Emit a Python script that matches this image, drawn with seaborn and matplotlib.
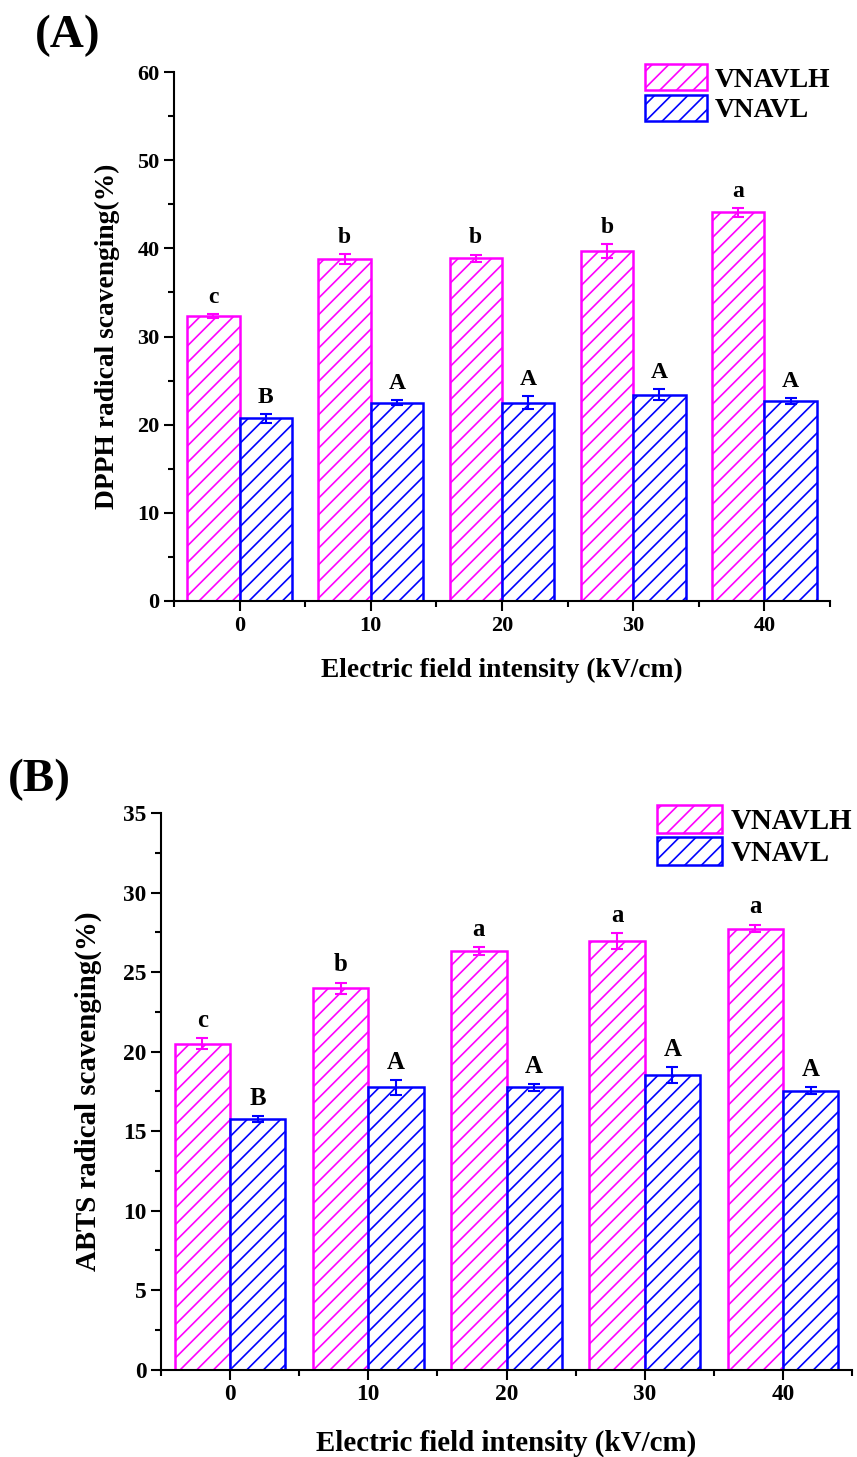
"""Antioxidant activity (DPPH / ABTS) vs electric field intensity, two panels."""

import matplotlib
matplotlib.use("Agg")
import matplotlib.pyplot as plt
from matplotlib.patches import Patch
from matplotlib.ticker import MultipleLocator
import pandas as pd
import seaborn as sns

# Data
fields = ["0", "10", "20", "30", "40"]
groups = ["VNAVLH", "VNAVL"]
colors = ["#FF00FF", "#0000FF"]

dpph_vnavlh = [32.3, 38.8, 38.9, 39.7, 44.1]
dpph_vnavlh_err = [0.2, 0.55, 0.4, 0.75, 0.5]
dpph_vnavl = [20.7, 22.5, 22.5, 23.4, 22.7]
dpph_vnavl_err = [0.55, 0.25, 0.7, 0.6, 0.3]
dpph_vnavlh_letters = ["c", "b", "b", "b", "a"]
dpph_vnavl_letters = ["B", "A", "A", "A", "A"]

abts_vnavlh = [20.5, 24.0, 26.35, 26.95, 27.75]
abts_vnavlh_err = [0.35, 0.35, 0.25, 0.5, 0.25]
abts_vnavl = [15.75, 17.75, 17.75, 18.55, 17.55]
abts_vnavl_err = [0.2, 0.45, 0.2, 0.5, 0.2]
abts_vnavlh_letters = ["c", "b", "a", "a", "a"]
abts_vnavl_letters = ["B", "A", "A", "A", "A"]

sns.set_style("ticks")
plt.rcParams.update({
    "font.family": ["Liberation Serif", "DejaVu Serif"],
    "font.weight": "bold",
    "axes.labelweight": "bold",
    "axes.linewidth": 1.5,
    "axes.edgecolor": "black",
    "axes.labelcolor": "black",
    "text.color": "black",
    "xtick.color": "black",
    "ytick.color": "black",
    "hatch.linewidth": 1.2,
})


def draw_panel(ax, h_vals, h_err, l_vals, l_err, h_let, l_let,
               ymax, ystep, ylabel, scale, legend_anchor, label_xy):
    df = pd.DataFrame({
        "field": fields * 2,
        "group": [groups[0]] * len(fields) + [groups[1]] * len(fields),
        "value": h_vals + l_vals,
    })
    sns.barplot(data=df, x="field", y="value", hue="group", palette=colors,
                errorbar=None, width=0.8, ax=ax, legend=False)
    for cont, color in zip(ax.containers, colors):
        for bar in cont:
            bar.set_facecolor("white")
            bar.set_edgecolor(color)
            bar.set_hatch("//")
            bar.set_linewidth(1.8)

    series = zip(ax.containers, [h_vals, l_vals], [h_err, l_err], [h_let, l_let], colors)
    for cont, vals, errs, lets, color in series:
        xs = [b.get_x() + b.get_width() / 2 for b in cont]
        ax.errorbar(xs, vals, yerr=errs, fmt="none", ecolor=color,
                    elinewidth=1.5, capsize=4, capthick=1.5, zorder=3)
        for x, v, e, t in zip(xs, vals, errs, lets):
            ax.annotate(t, (x, v + e), xytext=(0, 8), textcoords="offset points",
                        ha="center", va="baseline", fontsize=17 * scale,
                        fontweight="bold")

    ax.set_xlim(-0.5, len(fields) - 0.5)
    ax.set_ylim(0, ymax)
    ax.yaxis.set_major_locator(MultipleLocator(ystep))
    ax.yaxis.set_minor_locator(MultipleLocator(ystep / 2))
    ax.set_xticks([i - 0.5 for i in range(len(fields) + 1)], minor=True)
    ax.tick_params(which="major", direction="out", length=7, width=1.5,
                   labelsize=16 * scale)
    ax.tick_params(which="minor", direction="out", length=4, width=1.5)
    sns.despine(ax=ax)

    ax.set_xlabel("Electric field intensity (kV/cm)", fontsize=19.8 * scale)
    ax.set_ylabel(ylabel, fontsize=19.8 * scale)
    ax.xaxis.set_label_coords(0.5, label_xy[1])
    ax.yaxis.set_label_coords(label_xy[0], 0.5)

    handles = [Patch(facecolor="white", edgecolor=c, hatch="//", linewidth=1.8)
               for c in colors]
    ax.legend(handles, groups, loc="upper left", bbox_to_anchor=legend_anchor,
              bbox_transform=ax.figure.transFigure, frameon=False, borderpad=0,
              fontsize=19.8 * scale, handlelength=2.25, handleheight=1.1,
              handletextpad=0.3, labelspacing=0.08, borderaxespad=0)


W, H = 857, 1457
fig = plt.figure(figsize=(W / 100, H / 100), dpi=100)

ax_a = fig.add_axes([174 / W, 1 - 601 / H, 656 / W, 529 / H])
draw_panel(ax_a, dpph_vnavlh, dpph_vnavlh_err, dpph_vnavl, dpph_vnavl_err,
           dpph_vnavlh_letters, dpph_vnavl_letters, 60, 10,
           "DPPH radical scavenging(%)", 1.0, (645 / W, 1 - 64 / H),
           (-0.082, -0.108))

ax_b = fig.add_axes([161 / W, 1 - 1369.5 / H, 691 / W, 556.2 / H])
draw_panel(ax_b, abts_vnavlh, abts_vnavlh_err, abts_vnavl, abts_vnavl_err,
           abts_vnavlh_letters, abts_vnavl_letters, 35, 5,
           "ABTS radical scavenging(%)", 1.05, (657 / W, 1 - 805 / H),
           (-0.085, -0.109))

fig.text(35 / W, 1 - 36 / H, "(A)", fontsize=34, fontweight="bold",
         ha="left", va="center")
fig.text(8 / W, 1 - 780 / H, "(B)", fontsize=34, fontweight="bold",
         ha="left", va="center")

fig.savefig("out.png", dpi=100)
plt.close(fig)
